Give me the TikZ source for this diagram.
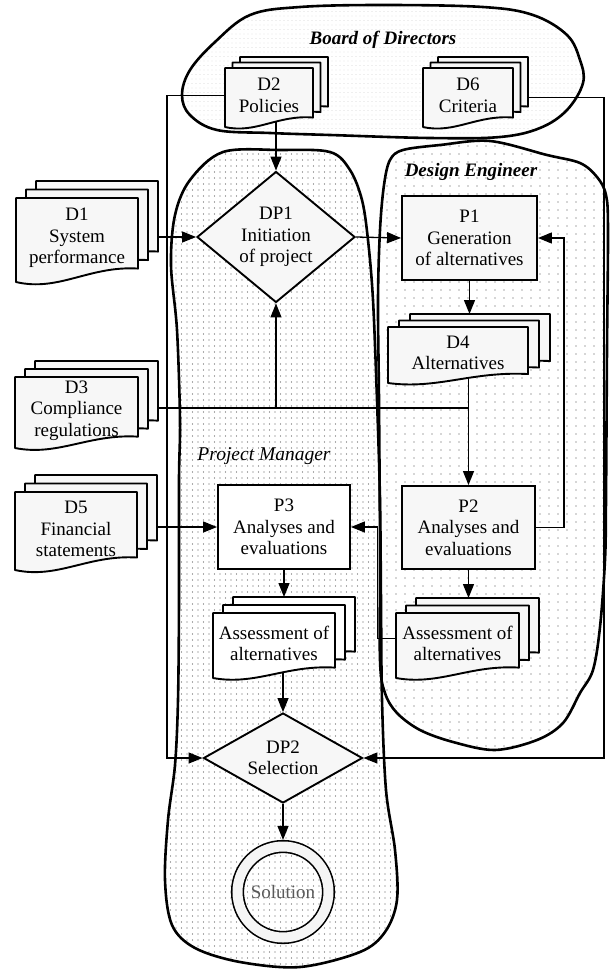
\documentclass[tikz,border=0pt]{standalone}
\usepackage{fontspec}
\setmainfont{Liberation Serif}
\usetikzlibrary{shapes.geometric,arrows.meta,patterns}

\pgfdeclarelayer{bg}
\pgfdeclarelayer{lines}
\pgfsetlayers{bg,lines,main}

% dotted fills for the swimlane regions
\pgfdeclarepatternformonly{pmdots}{\pgfqpoint{-1pt}{-1pt}}{\pgfqpoint{1pt}{1pt}}{\pgfqpoint{5.5pt}{6pt}}%
  {\pgfpathcircle{\pgfpointorigin}{0.55pt}\pgfusepath{fill}}
\pgfdeclarepatternformonly{dedots}{\pgfqpoint{-1pt}{-1pt}}{\pgfqpoint{1pt}{1pt}}{\pgfqpoint{9pt}{8pt}}%
  {\pgfpathcircle{\pgfpointorigin}{0.65pt}\pgfusepath{fill}}
\pgfdeclarepatternformonly{bddots}{\pgfqpoint{-1pt}{-1pt}}{\pgfqpoint{1pt}{1pt}}{\pgfqpoint{4pt}{4.5pt}}%
  {\pgfpathcircle{\pgfpointorigin}{0.4pt}\pgfusepath{fill}}

\tikzset{
  conn/.style={line width=1.3pt},
  arr/.style={conn, -{Triangle[length=14pt,width=11pt]}},
  box/.style={draw, line width=1.9pt, align=center, inner sep=0pt},
  docpage/.style={draw, line width=1.9pt, line join=round},
  doctext/.style={align=center, inner sep=0pt, yshift=2pt},
  dia/.style={diamond, draw, line width=1.9pt, inner sep=0pt, fill=gray!6},
  blob/.style={draw, line width=2.6pt, line join=round},
  lane/.style={font=\fontsize{19}{21}\selectfont\bfseries\itshape},
}

% stacked document symbol: name, cx, cy, width, height, dx, dy, fill, text
\newcommand\docstack[9]{%
  \begin{scope}[shift={(#2,#3)}]
    \foreach \k in {2,1,0}{%
      \path[docpage, fill=#8, shift={(\k*#6,-\k*#7)}]
        (-#4/2,-#5/2) -- (#4/2,-#5/2) -- (#4/2,#5/2-0.16*#5)
        .. controls (0.1*#4,#5/2-0.16*#5-3) and (-0.15*#4,#5/2+0.12*#5) .. (-#4/2,#5/2) -- cycle;
    }
    \coordinate (#1-back) at (#4/2+2*#6,0);
    \coordinate (#1-top) at (0,-#5/2-2*#7);
  \end{scope}
  \node[doctext, minimum width=#4, minimum height=#5] (#1) at (#2,#3) {#9};
}

\begin{document}
\begin{tikzpicture}[x=1pt, y=-1pt, font=\fontsize{19}{21.5}\selectfont]
\useasboundingbox (0,0) rectangle (610,970);

% ---------- swimlanes ----------
\begin{pgfonlayer}{bg}
  \path[blob, pattern=bddots, pattern color=gray!55]
    plot[smooth cycle, tension=0.6] coordinates {
      (250,15) (300,7) (383,5) (483,7) (533,15) (567,35) (580,60) (583,83)
      (567,110) (540,128) (500,137) (430,138) (330,135) (270,133) (217,130)
      (190,115) (182,95) (190,70) (215,42)};
  \path[blob, pattern=pmdots, pattern color=black!65]
    plot[smooth cycle, tension=0.55] coordinates {
      (223,152) (280,150) (330,152) (350,170) (362,200) (368,240) (373,300)
      (377,400) (380,500) (381,600) (382,700) (386,790) (395,850) (397,900)
      (385,932) (360,952) (300,967) (240,962) (195,948) (172,925) (165,880)
      (168,820) (175,765) (178,700) (179,600) (179,480) (180,420) (177,330)
      (171,265) (175,215) (190,180)};
  \path[blob, pattern=dedots, pattern color=black!70]
    plot[smooth cycle, tension=0.55] coordinates {
      (403,150) (440,145) (490,141) (547,155) (580,163) (597,177) (606,195)
      (608,230) (607,350) (606,500) (605,560) (600,627) (593,670) (580,693)
      (563,723) (537,740) (495,750) (453,742) (420,730) (397,713) (385,693)
      (380,660) (380,550) (379,400) (378,300) (380,230) (384,185) (390,160)};
\end{pgfonlayer}

\node[lane] (lbd) at (383,40) {Board of Directors};
\node[lane] (lde) at (471,172) {Design Engineer};
\node[font=\fontsize{19.5}{21}\selectfont\itshape] (lpm) at (264,456) {Project Manager};

% ---------- documents ----------
\docstack{d2}{269}{97.5}{88}{59}{7.5}{5.5}{gray!6}{D2\\Policies}
\docstack{d6}{468}{97.5}{90}{59}{7.5}{5.5}{gray!6}{D6\\Criteria}
\docstack{d1}{77}{240}{122}{84}{10}{8.5}{gray!6}{D1\\System\\performance}
\docstack{d3}{76.5}{412.5}{123}{71}{10}{8}{gray!6}{D3\\Compliance\\regulations}
\docstack{d5}{76}{531}{122}{78}{10}{8.5}{gray!6}{D5\\Financial\\statements}
\docstack{d4}{458}{355}{140}{56}{11}{6.5}{gray!6}{D4\\Alternatives}
\docstack{a1}{274}{645.5}{122}{65}{10}{8}{white}{Assessment of\\alternatives}
\docstack{a2}{457.5}{645.5}{123}{65}{10}{7.5}{gray!6}{Assessment of\\alternatives}

% ---------- processes and decisions ----------
\node[box, fill=gray!6, minimum width=135, minimum height=84] (p1) at (469.5,238) {P1\\Generation\\of alternatives};
\node[box, fill=gray!6, minimum width=133, minimum height=83] (p2) at (468.5,527.5) {P2\\Analyses and\\evaluations};
\node[box, fill=white, minimum width=132, minimum height=84] (p3) at (284,527) {P3\\Analyses and\\evaluations};

\node[dia, minimum width=158, minimum height=131] (dp1) at (276,237) {};
\node[align=center, inner sep=0pt] (dp1t) at (dp1) {DP1\\Initiation\\of project};
\node[dia, minimum width=159, minimum height=90] (dp2) at (283,758) {};
\node[align=center, inner sep=0pt] (dp2t) at (dp2) {DP2\\Selection};

\node[circle, draw, line width=1.6pt, double=gray!8, double distance=10pt,
      minimum size=91, inner sep=0pt, outer sep=6.6pt, text=black!65] (sol) at (283,892) {Solution};

% ---------- connectors ----------
\coordinate (loopL) at (167,95);
\coordinate (loopR) at (604,95);
\coordinate (c3) at (468.5,408);

\begin{pgfonlayer}{lines}
  \draw[arr] (dp1.north |- d2.center) -- (dp1.north);
  \draw[arr] (d2.west) -- (d2.west -| loopL) |- (dp2.west);
  \draw[arr] (d6-back) -- (d6-back -| loopR) |- (dp2.east);
  \draw[arr] (dp1.west -| d1-back) -- (dp1.west);
  \draw[arr] (dp1.east) -- (p1.west);
  \draw[arr] (p1.south) -- (p1.south |- d4-top);
  \draw[arr] (d4.center -| p2.north) -- (p2.north);
  \draw[conn] (d3-back |- c3) -- (c3);
  \draw[arr] (dp1.south |- c3) -- (dp1.south);
  \draw[arr] (p2.east) -- ++(28,0) |- (p1.east);
  \draw[arr] (p2.south) -- (p2.south |- a2-top);
  \draw[arr] ([yshift=5pt]a2.west) -- ++(-18,0) |- (p3.east);
  \draw[arr] (p3.west -| d5-back) -- (p3.west);
  \draw[arr] (p3.south) -- (p3.south |- a1-top);
  \draw[arr] (dp2.north |- a1.center) -- (dp2.north);
  \draw[arr] (dp2.south) -- (sol.north);
\end{pgfonlayer}
\end{tikzpicture}
\end{document}
